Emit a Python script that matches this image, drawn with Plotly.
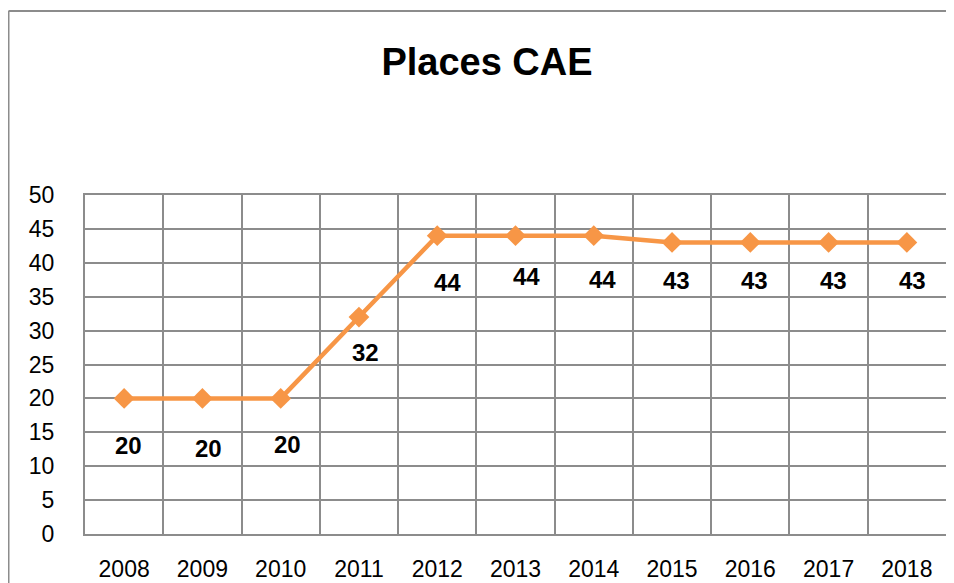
import plotly.graph_objects as go

years = ["2008", "2009", "2010", "2011", "2012", "2013", "2014", "2015", "2016", "2017", "2018"]
places = [20, 20, 20, 32, 44, 44, 44, 43, 43, 43, 43]
label_dx = [4, 6, 7, 7, 10, 11, 9, 4, 4, 5, 6]
label_dy = [-47, -50, -46, -35, -47, -41, -44, -38, -38, -38, -38]

ORANGE = "#F79646"
GRID = "#8C8C8C"
FONT = "Liberation Sans"

fig = go.Figure()
fig.add_trace(go.Scatter(
    x=years, y=places, mode="lines+markers",
    line=dict(color=ORANGE, width=4.5),
    marker=dict(symbol="diamond", size=16, color=ORANGE),
    hoverinfo="x+y", showlegend=False,
))

for i, (y, dx, dy) in enumerate(zip(places, label_dx, label_dy)):
    fig.add_annotation(x=i, y=y, xref="x", yref="y", text=f"<b>{y}</b>",
                       showarrow=False, xshift=dx, yshift=dy,
                       font=dict(family=FONT, size=24, color="black"))

# page body has an 8px margin; figure coords = screen coords - 8
OFF = 8
W, H = 946, 575
L, R, T, B = 85 - OFF, 946 - OFF, 195 - OFF, 534 - OFF
pw, ph = R - L, B - T

fig.add_shape(type="line", xref="paper", yref="paper",
              x0=(0.5 - L) / pw, x1=(0.5 - L) / pw,
              y0=(B - 3) / ph, y1=(B - 600) / ph,
              line=dict(color=GRID, width=2))
fig.add_shape(type="line", xref="paper", yref="paper",
              x0=(0.5 - L) / pw, x1=(960 - L) / pw,
              y0=(B - 3) / ph, y1=(B - 3) / ph,
              line=dict(color=GRID, width=2))

fig.update_layout(
    width=W, height=H,
    margin=dict(l=L, r=W - R, t=T, b=H - B, autoexpand=False),
    paper_bgcolor="white", plot_bgcolor="white",
    title=dict(text="<b>Places CAE</b>", x=(487 - OFF) / W, xanchor="center",
               y=1 - (62 - OFF) / H, yanchor="middle",
               font=dict(family=FONT, size=38, color="black")),
    xaxis=dict(type="category", tickson="boundaries", showgrid=True,
               gridcolor=GRID, gridwidth=1.5, showline=True, mirror=True,
               linecolor=GRID, linewidth=2, ticks="", ticklabelstandoff=13,
               automargin=False,
               tickfont=dict(family=FONT, size=23, color="black"),
               range=[-0.5, 10.5], fixedrange=True),
    yaxis=dict(range=[0, 50], dtick=5, showgrid=True, gridcolor=GRID,
               gridwidth=1.5, showline=True, mirror=True, linecolor=GRID,
               linewidth=2, ticks="outside", ticklen=24, automargin=False,
               tickcolor="rgba(0,0,0,0)", zeroline=False,
               tickfont=dict(family=FONT, size=23, color="black"),
               fixedrange=True),
    font=dict(family=FONT),
)

fig.write_html("out.html")
